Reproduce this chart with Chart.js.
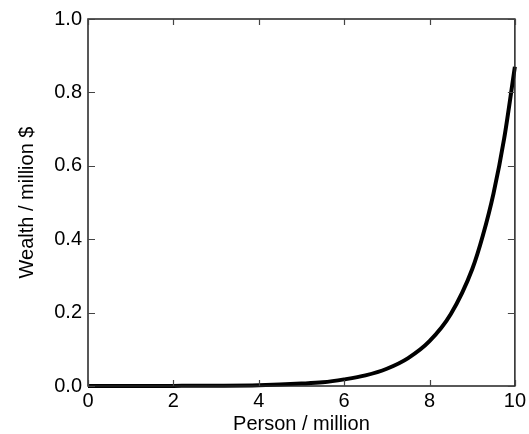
<!DOCTYPE html>
<html>
<head>
<meta charset="utf-8">
<script src="https://cdn.jsdelivr.net/npm/chart.js@4/dist/chart.umd.min.js"></script>
<style>
  html, body { margin: 0; padding: 0; background: #fff; }
  #wrap { width: 529px; height: 434px; }
</style>
</head>
<body>
<div id="wrap"><canvas id="chart1"></canvas></div>
<script>
// values
const persons = [0, 1, 2, 3, 4, 5, 5.5, 6, 6.5, 7, 7.5, 8, 8.5, 9, 9.25, 9.5, 9.75, 10];
const wealth = [0, 0.0001, 0.0003, 0.0008, 0.0022, 0.0065, 0.010, 0.018, 0.029, 0.047, 0.076, 0.122, 0.196, 0.318, 0.41, 0.525, 0.675, 0.87];
const xTicks = [0, 2, 4, 6, 8, 10];
const yTicks = [0, 0.2, 0.4, 0.6, 0.8, 1.0];

const points = persons.map((p, i) => ({ x: p, y: wealth[i] }));

// frame plus inward ticks on all four sides
const frame = {
    id: 'frame',
    afterDraw(chart) {
        const c = chart.ctx, a = chart.chartArea;
        const xs = chart.scales.x, ys = chart.scales.y;
        c.save();
        c.strokeStyle = '#222';
        c.lineWidth = 1.5;
        c.strokeRect(a.left, a.top, a.right - a.left, a.bottom - a.top);
        c.lineWidth = 1.2;
        c.strokeStyle = '#444';
        c.beginPath();
        xTicks.forEach(v => {
            const px = Math.round(xs.getPixelForValue(v)) + 0.5;
            c.moveTo(px, a.bottom); c.lineTo(px, a.bottom - 6);
            c.moveTo(px, a.top); c.lineTo(px, a.top + 6);
        });
        yTicks.forEach(v => {
            const py = Math.round(ys.getPixelForValue(v)) + 0.5;
            c.moveTo(a.left, py); c.lineTo(a.left + 7, py);
            c.moveTo(a.right, py); c.lineTo(a.right - 7, py);
        });
        c.stroke();
        c.restore();
    }
};

const myChart = new Chart(document.getElementById('chart1'), {
    type: 'scatter',
    data: {
        datasets: [{
            data: points,
            showLine: true,
            borderColor: '#000000',
            borderWidth: 4,
            pointRadius: 0,
            cubicInterpolationMode: 'monotone',
            clip: false
        }]
    },
    options: {
        responsive: true,
        maintainAspectRatio: false,
        animation: false,
        layout: {
            padding: { top: 19, right: 13, left: 0, bottom: 0 }
        },
        scales: {
            x: {
                type: 'linear',
                min: 0,
                max: 10,
                afterFit: s => { s.height = 48; },
                afterBuildTicks: s => { s.ticks = xTicks.map(v => ({ value: v })); },
                grid: { display: false, drawTicks: false },
                border: { display: false },
                ticks: {
                    color: '#000000',
                    padding: 3,
                    maxRotation: 0,
                    font: { family: 'Liberation Sans, Arial, sans-serif', size: 20 }
                },
                title: {
                    display: true,
                    text: 'Person / million',
                    color: '#000000',
                    padding: { top: 0, bottom: -2 },
                    font: { family: 'Liberation Sans, Arial, sans-serif', size: 20 }
                }
            },
            y: {
                min: 0,
                max: 1,
                afterFit: s => { s.width = 88; },
                afterBuildTicks: s => { s.ticks = yTicks.map(v => ({ value: v })); },
                grid: { display: false, drawTicks: false },
                border: { display: false },
                ticks: {
                    color: '#000000',
                    padding: 6,
                    callback: v => v.toFixed(1),
                    font: { family: 'Liberation Sans, Arial, sans-serif', size: 20 }
                },
                title: {
                    display: true,
                    text: 'Wealth / million $',
                    color: '#000000',
                    padding: { top: 15, bottom: 0 },
                    font: { family: 'Liberation Sans, Arial, sans-serif', size: 20 }
                }
            }
        },
        plugins: {
            legend: { display: false },
            tooltip: { enabled: false }
        }
    },
    plugins: [frame]
});
</script>
</body>
</html>
